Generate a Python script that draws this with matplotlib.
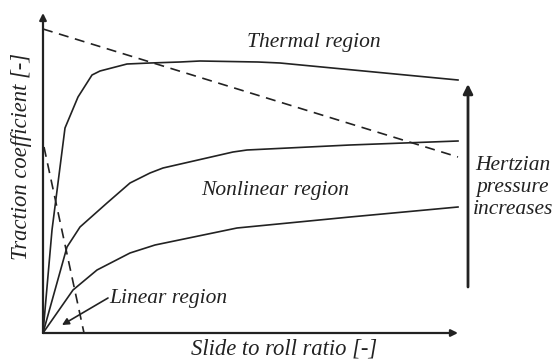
import matplotlib
matplotlib.use('Agg')
import numpy as np
import matplotlib.pyplot as plt

# curves (slide-to-roll ratio, traction coefficient), arbitrary units
high_x = [0, 9, 22, 35, 49, 57, 84, 107, 137, 157, 215, 237, 415]
high_y = [0, 103, 205, 236, 258, 262, 269, 270, 271, 272, 271, 270, 253]

mid_x = [0, 24, 37, 64, 87, 107, 120, 190, 204, 307, 415]
mid_y = [0, 86, 106, 130, 150, 160, 165, 181, 183, 188, 192]

low_x = [0, 30, 54, 87, 112, 194, 307, 415]
low_y = [0, 43, 63, 80, 88, 105, 116, 126]

# dashed boundary lines
thermal_x = [0, 415]
thermal_y = [304, 176]
linear_x = [1, 41]
linear_y = [186, 0]

font = dict(family='Liberation Serif', style='italic', fontsize=15.5, color='#222222')
label_font = dict(font, fontsize=16.3)


def draw_arrow(ax, start, end, lw=1.5, scale=12):
    ax.annotate('', xy=end, xytext=start,
                arrowprops=dict(arrowstyle='-|>', lw=lw, color='#222222',
                                mutation_scale=scale, shrinkA=0, shrinkB=0))


def main():
    fig = plt.figure(figsize=(5.57, 3.63), dpi=100)
    ax = fig.add_axes([0, 0, 1, 1])
    ax.set_xlim(-43, 514)
    ax.set_ylim(-30, 333)
    ax.axis('off')

    lc = '#222222'
    ax.plot(high_x, high_y, color=lc, lw=1.2)
    ax.plot(mid_x, mid_y, color=lc, lw=1.2)
    ax.plot(low_x, low_y, color=lc, lw=1.2)
    ax.plot(thermal_x, thermal_y, color=lc, lw=1.2, dashes=(6, 4))
    ax.plot(linear_x, linear_y, color=lc, lw=1.2, dashes=(6, 4))

    # axes with arrow heads
    draw_arrow(ax, (0, 0), (0, 320), lw=1.6, scale=10)
    draw_arrow(ax, (0, 0), (415, 0), lw=1.6, scale=10)

    # pressure arrow
    draw_arrow(ax, (425, 46), (425, 249), lw=2.0, scale=14)

    # pointer to linear region
    draw_arrow(ax, (65, 35), (19, 8), lw=1.2, scale=10)

    ax.text(271, 286, 'Thermal region', ha='center', va='baseline', **font)
    ax.text(232, 138, 'Nonlinear region', ha='center', va='baseline', **font)
    ax.text(66, 30, 'Linear region', ha='left', va='baseline', **font)
    ax.text(470, 163, 'Hertzian', ha='center', va='baseline', **font)
    ax.text(470, 141, 'pressure', ha='center', va='baseline', **font)
    ax.text(470, 119, 'increases', ha='center', va='baseline', **font)

    ax.text(241, -22, 'Slide to roll ratio [-]', ha='center', va='baseline', **label_font)
    ax.text(-21, 177, 'Traction coefficient [-]', ha='center', va='center',
            rotation=90, **label_font)

    fig.savefig('out.png', dpi=100)
    plt.close(fig)


if __name__ == "__main__":
    main()
